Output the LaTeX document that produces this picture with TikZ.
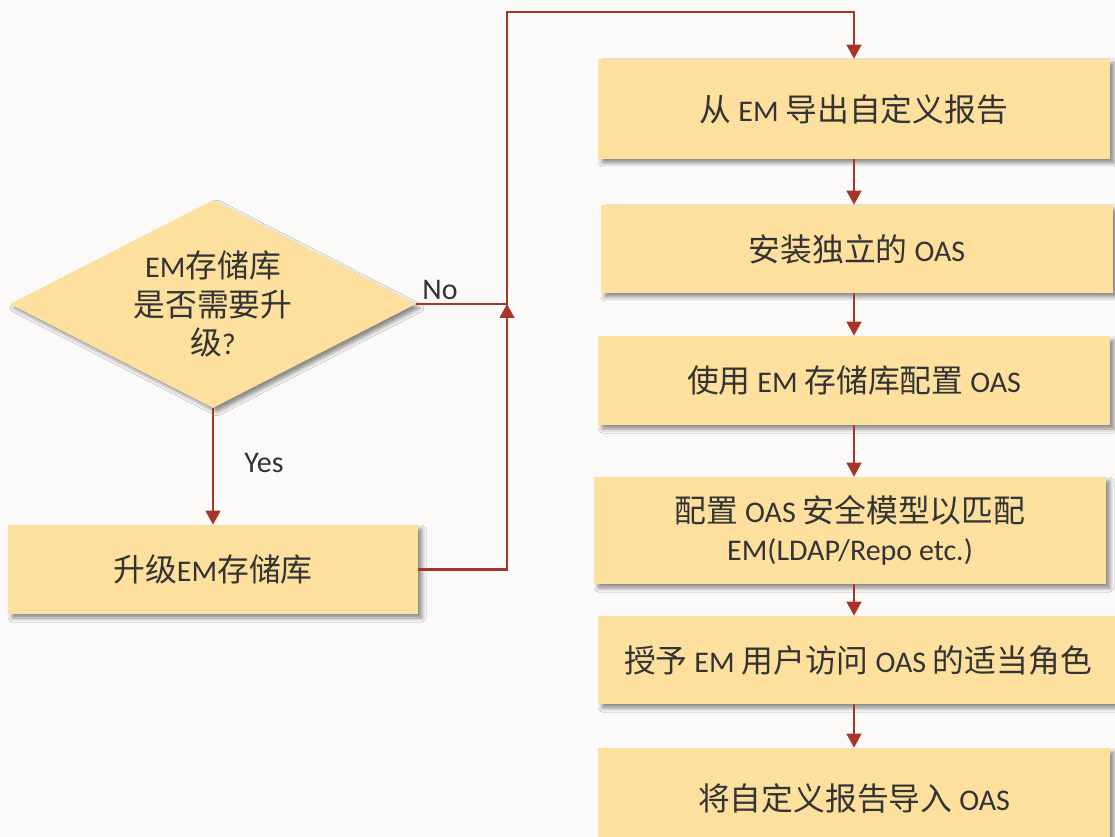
\documentclass[tikz,border=0pt]{standalone}
\usepackage{fontspec}
\setmainfont{Carlito}
\newfontfamily\cjk[Scale=1.06]{Noto Sans CJK SC}
\newcommand\zh[1]{{\cjk #1}}
\usetikzlibrary{shapes.geometric,shadows.blur,arrows.meta}
\definecolor{paper}{RGB}{251,250,248}
\definecolor{gold}{RGB}{253,224,158}
\definecolor{rust}{RGB}{166,52,40}
\definecolor{ink}{RGB}{51,51,51}
\tikzset{
  stepbox/.style={rectangle, fill=gold, text=ink, align=center, inner sep=0pt,
    font=\fontsize{22.5}{29}\selectfont,
    blur shadow={shadow xshift=3pt, shadow yshift=-3pt, shadow blur radius=3pt, shadow opacity=45}},
  flow/.style={draw=rust, line width=1.7pt, -{Triangle[length=10.5pt,width=11pt]}},
  tag/.style={text=ink, font=\fontsize{22.5}{27}\selectfont, inner sep=0pt}
}

\begin{document}
\begin{tikzpicture}[x=0.75pt,y=-0.75pt]
\fill[paper] (0,0) rectangle (1115,837);
\useasboundingbox (0,0) rectangle (1115,837);

% left side: question and upgrade
\node[stepbox, shape=diamond, aspect=2, minimum width=304.5pt, minimum height=156pt] (dec) at (213,304)
  {EM\zh{存储库}\\\zh{是否需要升}\\\zh{级}?};
\node[stepbox, minimum width=307.5pt, minimum height=66.75pt] (up) at (213,569.5) {\zh{升级}EM\zh{存储库}};

% right column
\node[stepbox, minimum width=384pt, minimum height=75pt] (b1) at (854,109) {\zh{从} EM \zh{导出自定义报告}};
\node[stepbox, minimum width=384pt, minimum height=66pt] (b2) at (857,249) {\zh{安装独立的} OAS};
\node[stepbox, minimum width=384pt, minimum height=66.75pt] (b3) at (854,380.5) {\zh{使用} EM \zh{存储库配置} OAS};
\node[stepbox, minimum width=384pt, minimum height=80.25pt] (b4) at (850,530.5) {\zh{配置} OAS \zh{安全模型以匹配}\\EM(LDAP/Repo etc.)};
\node[stepbox, minimum width=390pt, minimum height=66pt] (b5) at (858,660) {\zh{授予} EM \zh{用户访问} OAS \zh{的适当角色}};
\node[stepbox, minimum width=384pt, minimum height=75pt] (b6) at (854,798) {\zh{将自定义报告导入} OAS};

\coordinate (jn) at (507,304);

% connectors
\draw[flow] (dec.south) -- (up.north);
\node[tag] (yes) at (264,463) {Yes};
\draw[flow] (dec.east) -- (jn) -- ++(0,-292) -| (b1.north);
\node[tag] (no) at (440,290) {No};
\draw[flow] (up.east) -| (jn);
\foreach \a/\b in {b1/b2,b2/b3,b3/b4,b4/b5,b5/b6}
  \draw[flow] (b1.south |- \a.south) -- (b1.south |- \b.north);

\end{tikzpicture}
\end{document}
